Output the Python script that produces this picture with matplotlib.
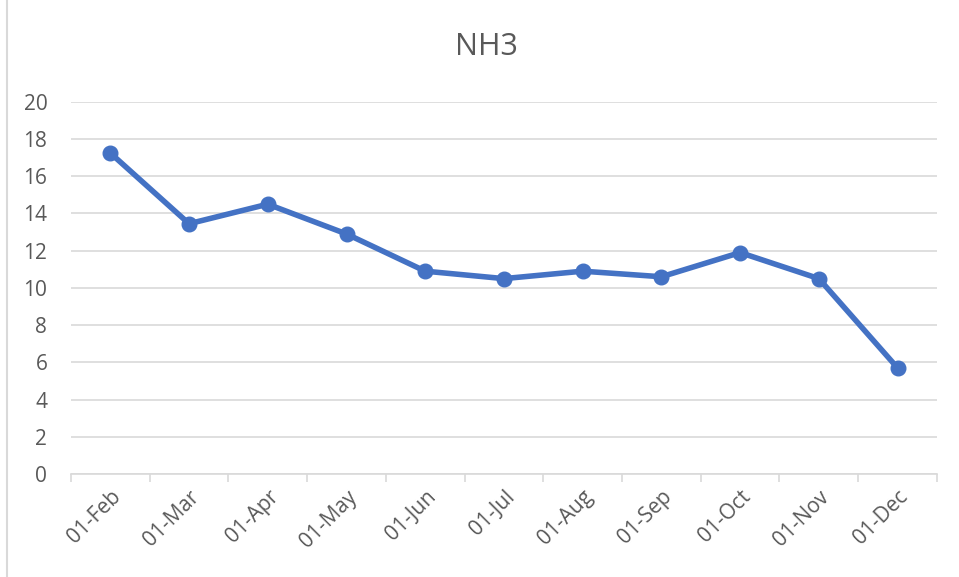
import matplotlib.pyplot as plt
from matplotlib.patches import Rectangle

months = ['01-Feb', '01-Mar', '01-Apr', '01-May', '01-Jun', '01-Jul',
          '01-Aug', '01-Sep', '01-Oct', '01-Nov', '01-Dec']
nh3 = [17.25, 13.45, 14.5, 12.9, 10.9, 10.5, 10.9, 10.6, 11.9, 10.5, 5.7]

plt.rcParams['font.family'] = ['Open Sans', 'DejaVu Sans']
text_col = '#595959'
grid_col = '#D9D9D9'

fig = plt.figure(figsize=(9.59, 5.77), dpi=100)
ax = fig.add_axes([0.074, 0.1785, 0.903, 0.645])

x = list(range(len(months)))
ax.plot(x, nh3, color='#4472C4', linewidth=4, marker='o', markersize=10.5)

ax.set_xlim(-0.5, len(months) - 0.5)
ax.set_ylim(0, 20)
ax.set_yticks(range(0, 21, 2))
ax.yaxis.grid(True, color=grid_col, linewidth=1.2)
ax.set_axisbelow(True)

for s in ['top', 'right', 'left']:
    ax.spines[s].set_visible(False)
ax.spines['bottom'].set_color(grid_col)
ax.spines['bottom'].set_linewidth(1.2)

ax.tick_params(axis='y', length=0, pad=17, labelsize=15, labelcolor=text_col)
ax.set_xticks(x)
ax.set_xticklabels(months, rotation=45, ha='right', va='top', rotation_mode='anchor')
ax.tick_params(axis='x', length=0, pad=9, labelsize=15, labelcolor=text_col)
# category boundary ticks
ax.set_xticks([i - 0.5 for i in range(len(months) + 1)], minor=True)
ax.tick_params(axis='x', which='minor', length=6, color=grid_col, width=1.2)

fig.text(0.507, 0.919, 'NH3', ha='center', va='center', fontsize=22, color=text_col)

fig.patches.append(Rectangle((0.007, -0.01), 1.2, 1.2, transform=fig.transFigure,
                             fill=False, edgecolor=grid_col, linewidth=1.5))

fig.savefig('out.png', dpi=100)
